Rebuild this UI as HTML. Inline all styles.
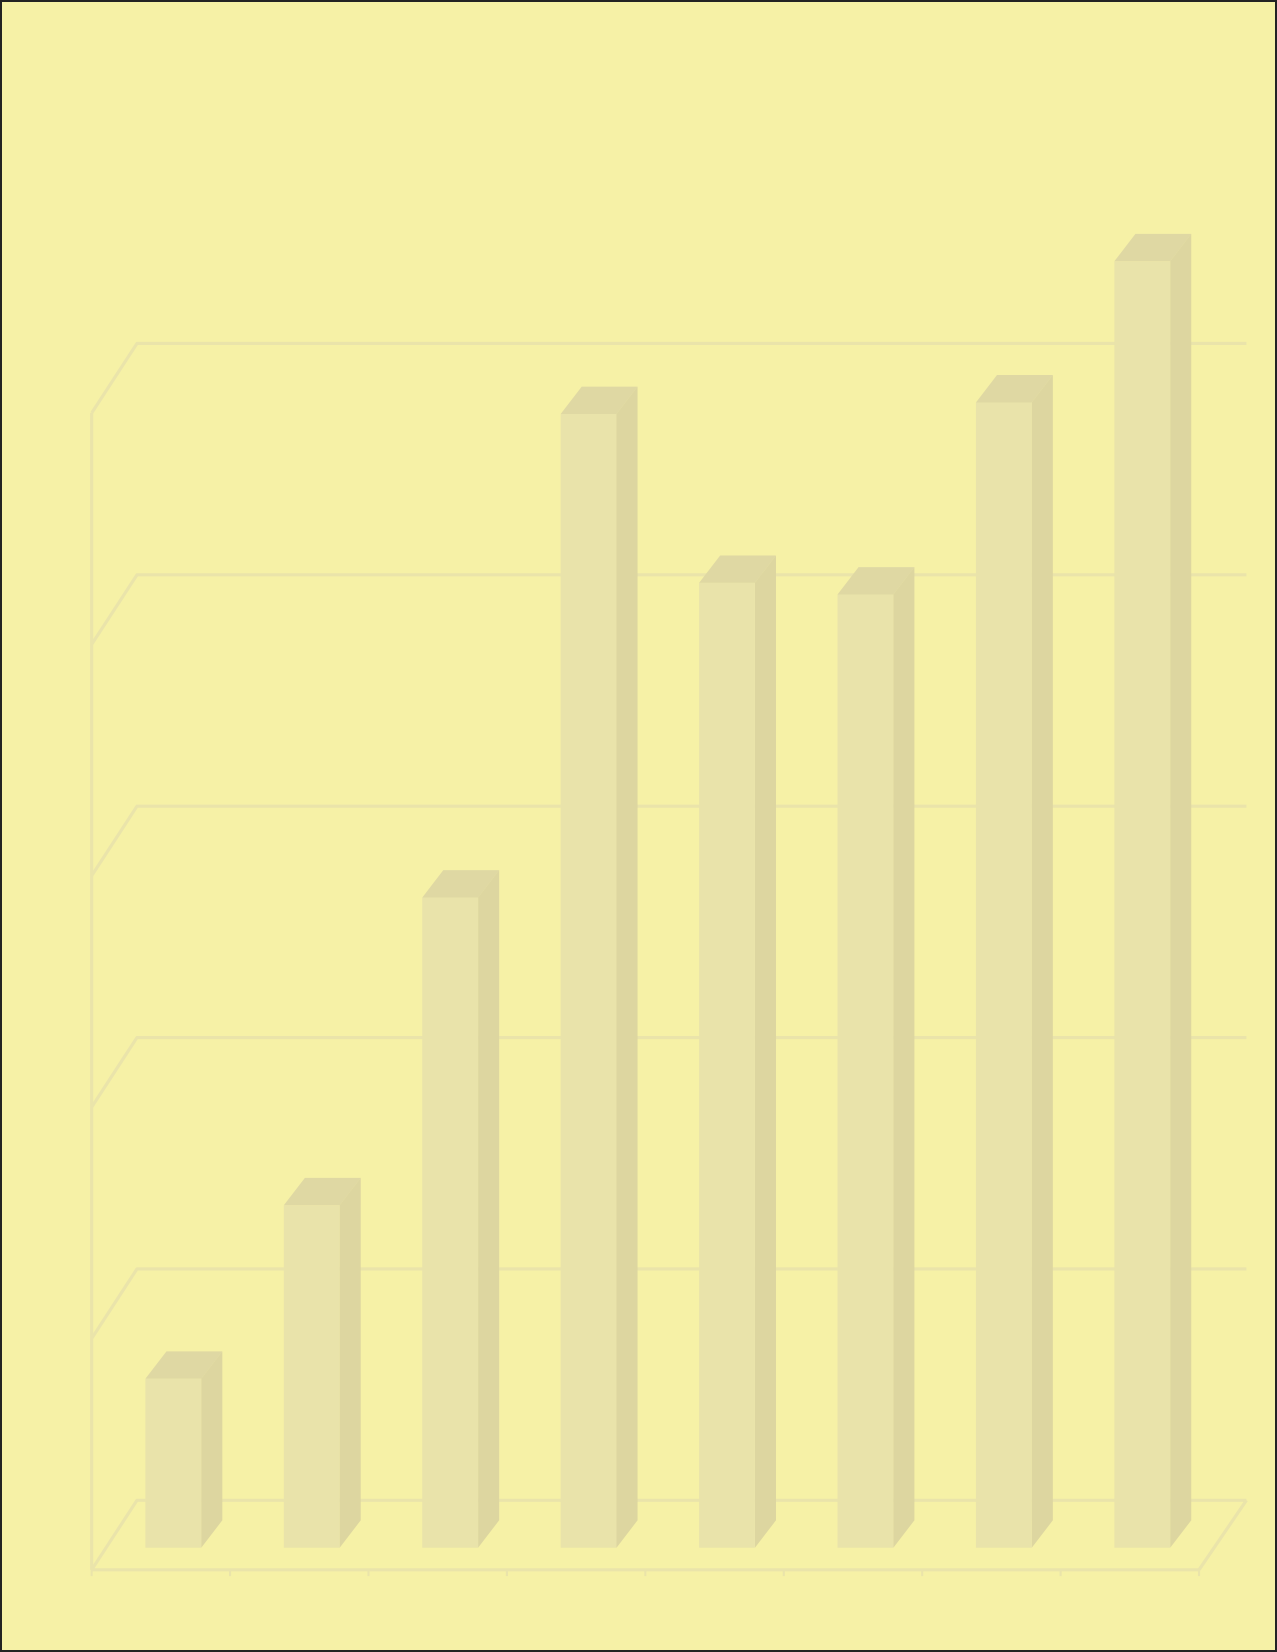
<!DOCTYPE html>
<html><head><meta charset="utf-8"><style>
html,body{margin:0;padding:0;background:#222;}
#wrap{position:relative;width:1277px;height:1652px;box-sizing:border-box;border:2px solid #232323;background:#f6f1a6;overflow:hidden}
svg{position:absolute;left:-2px;top:-2px}
</style></head><body>
<div id="wrap">
<svg id="chart" width="1277" height="1652" viewBox="0 0 1212 1568" preserveAspectRatio="none"></svg>
</div>
<script>
const categories = ["c1","c2","c3","c4","c5","c6","c7","c8"];
const values = [0.73, 1.48, 2.81, 4.90, 4.17, 4.12, 4.95, 5.56];
const ticks = [0, 1, 2, 3, 4, 5];

const NS = "http://www.w3.org/2000/svg";
const svg = document.getElementById('chart');
const X0 = 87, X1 = 1138, YF = 1490, UNIT = 219.6;
const DX = 43, DY = -66;           // wall depth
const BDX = 20, BDY = -26;         // bar depth
const BAR_BASE = 1469, BAR_OFF = 51, BAR_W = 53;
const slot = (X1 - X0) / categories.length;
const yFront = v => YF - v * UNIT;
const yBar = v => BAR_BASE - v * UNIT;
const xSlot = i => X0 + i * slot;

function el(tag, attrs) {
  const e = document.createElementNS(NS, tag);
  for (const k in attrs) e.setAttribute(k, attrs[k]);
  svg.appendChild(e);
  return e;
}
const GRID = "#eae4aa";
// gridlines
ticks.forEach(t => {
  const y = yFront(t);
  const g = el('polyline', {points: `${X0},${y} ${X0+DX},${y+DY} ${1183},${y+DY}`, fill:'none', stroke:GRID, 'stroke-width':3, 'stroke-linejoin':'round'});
  
  
});
// floor right edge & front floor line & y axis
let a = el('line', {x1:X1, y1:YF, x2:1183, y2:YF+DY, stroke:GRID, 'stroke-width':3});


a = el('line', {x1:X0, y1:YF, x2:X1, y2:YF, stroke:GRID, 'stroke-width':3});


a = el('line', {x1:X0, y1:yFront(ticks[ticks.length-1]), x2:X0, y2:YF, stroke:GRID, 'stroke-width':3});


for (let i = 0; i <= categories.length; i++) {
  const t = el('line', {x1:xSlot(i), y1:YF, x2:xSlot(i), y2:YF+6, stroke:GRID, 'stroke-width':2});
  
  
}
// bars
values.forEach((v, i) => {
  const x = xSlot(i) + BAR_OFF, yt = yBar(v), yb = BAR_BASE;
  const side = el('polygon', {points:`${x+BAR_W},${yt} ${x+BAR_W+BDX},${yt+BDY} ${x+BAR_W+BDX},${yb+BDY} ${x+BAR_W},${yb}`, fill:'#ddd6a0'});
  
  
  const top = el('polygon', {points:`${x},${yt} ${x+BDX},${yt+BDY} ${x+BAR_W+BDX},${yt+BDY} ${x+BAR_W},${yt}`, fill:'#dfd8a3'});
  
  
  const front = el('rect', {x:x, y:yt, width:BAR_W, height:yb-yt, fill:'#e9e3aa'});
  
  
});
</script>
</body></html>
